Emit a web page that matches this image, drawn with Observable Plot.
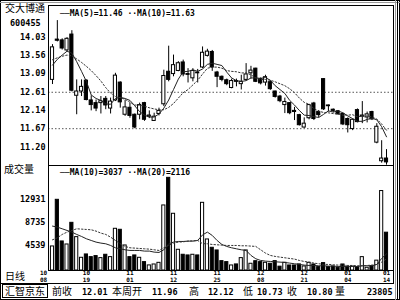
<!DOCTYPE html>
<html><head><meta charset="utf-8">
<script src="https://cdn.jsdelivr.net/npm/d3@7"></script>
<script src="https://cdn.jsdelivr.net/npm/@observablehq/plot@0.6"></script>
<style>
html,body{margin:0;padding:0;background:#fff;}
#c{position:relative;width:400px;height:300px;overflow:hidden;background:#fff;}
#c svg{position:absolute;left:0;}
.t{position:absolute;white-space:nowrap;line-height:1;color:#000;}
.cjk{font-family:"Noto Sans CJK SC",sans-serif;font-size:10px;}
.num{font-family:"DejaVu Sans Mono",monospace;font-weight:bold;font-size:8.5px;}
.leg{font-family:"DejaVu Sans Mono",monospace;font-weight:bold;font-size:8px;}
</style></head><body><div id="c"></div>
<script>
// ---- data ----
const stockName = "交大博通";
const stockCode = "600455";
const dates = ["10/08","10/11","10/12","10/13","10/14","10/15","10/18","10/19","10/20","10/21","10/22","10/25","10/26","10/27","10/28","10/29",
"11/01","11/02","11/03","11/04","11/05","11/08","11/09","11/10","11/11","11/12","11/15","11/16","11/17","11/18","11/19","11/22","11/23","11/24","11/25","11/26","11/29","11/30",
"12/01","12/02","12/03","12/06","12/07","12/08","12/09","12/10","12/13","12/14","12/15","12/16","12/17","12/20","12/21","12/22","12/23","12/24","12/27","12/28","12/29","12/30","12/31",
"01/04","01/05","01/06","01/07","01/10","01/11","01/12","01/13","01/14"];
const open  = [12.93,13.97,13.95,13.69,14.10,12.52,12.63,12.91,12.40,12.33,12.33,12.44,12.19,12.40,12.86,12.03,12.21,12.03,12.03,12.33,11.98,11.87,12.05,12.30,13.14,13.08,13.16,13.38,13.08,12.97,13.12,13.25,13.55,13.65,13.12,13.01,12.92,12.72,12.90,12.82,12.93,13.10,13.22,12.95,12.86,12.87,12.63,12.50,12.28,12.33,12.13,12.02,11.70,11.94,12.32,12.10,12.95,12.27,12.16,12.12,12.05,11.92,11.66,12.15,11.98,11.96,12.10,11.31,10.83,10.90];
const high  = [13.84,14.46,13.99,14.02,14.20,12.93,12.93,12.93,12.52,12.41,12.50,12.50,12.46,13.10,12.88,12.40,12.33,12.05,12.33,12.35,12.13,12.07,12.20,13.18,13.80,13.57,13.40,13.44,13.22,13.22,13.20,13.78,13.72,13.69,13.15,13.03,12.95,12.95,12.95,13.05,13.35,13.28,13.23,12.98,13.05,12.90,12.64,12.53,12.46,12.34,12.22,12.04,11.95,12.30,12.35,12.14,12.96,12.28,12.18,12.14,12.07,11.95,11.92,12.18,12.37,12.10,12.12,11.80,11.36,11.13];
const low   = [12.81,13.91,13.70,13.66,12.62,12.03,12.50,12.39,12.13,12.11,12.05,12.16,12.05,12.37,12.20,11.99,11.94,11.67,11.90,11.86,11.93,11.86,12.00,12.24,12.88,13.01,13.14,13.01,12.85,12.88,12.85,13.22,13.52,13.15,12.73,12.88,12.78,12.70,12.75,12.67,12.90,12.95,12.86,12.80,12.77,12.66,12.46,12.34,12.06,12.03,11.88,11.74,11.68,11.90,11.88,11.95,12.14,12.10,12.08,12.02,11.75,11.56,11.62,11.82,11.80,11.82,11.88,11.28,10.78,10.73];
const close = [13.77,13.94,13.74,13.99,12.65,12.63,12.75,12.41,12.28,12.19,12.38,12.27,12.37,13.04,12.35,12.22,12.00,11.70,12.28,11.90,12.01,11.98,12.13,13.03,12.93,13.31,13.36,13.07,13.06,13.16,13.10,13.63,13.66,13.25,13.01,12.93,12.82,12.90,12.88,12.88,13.07,13.17,12.88,12.84,13.00,12.69,12.49,12.38,12.36,12.07,12.10,11.76,11.80,12.28,11.92,12.02,12.17,12.25,12.13,12.04,11.78,11.76,11.90,11.84,12.01,12.04,11.91,11.72,10.90,10.80];
const volume = [4390,12900,5300,4750,8700,6090,2320,2930,2440,2630,2260,2870,2440,7610,7430,4570,2440,2750,2320,1530,930,1100,1400,11870,16910,10350,3780,2870,2750,2870,2750,12350,5665,4145,3660,1710,1530,920,1110,2260,3660,1230,1700,1530,1410,1230,1710,700,1410,920,920,1110,740,1400,1100,620,1350,620,740,500,1100,700,700,600,2440,500,800,1800,14500,6900];
const ma5  = [13.31,13.46,13.57,13.67,13.62,13.40,13.15,12.89,12.54,12.45,12.40,12.31,12.30,12.45,12.48,12.45,12.40,12.26,12.11,12.02,11.97,11.97,12.05,12.20,12.41,12.68,12.95,13.14,13.15,13.19,13.15,13.21,13.33,13.36,13.33,13.30,13.13,12.98,12.91,12.89,12.91,12.98,12.98,12.97,12.99,12.92,12.78,12.68,12.58,12.40,12.28,12.14,12.02,12.01,11.98,11.96,12.04,12.13,12.10,12.13,12.08,12.00,11.93,11.86,11.86,11.91,11.94,11.90,11.72,11.46];
const ma10 = [13.45,13.50,13.54,13.57,13.55,13.47,13.38,13.28,13.17,13.04,12.90,12.73,12.59,12.50,12.47,12.43,12.35,12.28,12.28,12.25,12.21,12.18,12.16,12.16,12.22,12.32,12.46,12.60,12.68,12.80,12.92,13.08,13.23,13.26,13.26,13.23,13.17,13.15,13.14,13.11,13.11,13.06,12.98,12.94,12.94,12.92,12.88,12.83,12.78,12.70,12.60,12.46,12.35,12.30,12.19,12.12,12.09,12.08,12.06,12.05,12.02,12.02,12.03,11.98,11.99,12.00,11.97,11.92,11.79,11.63];
const vma10 = [8100,7915,7610,7310,7000,6580,6210,5790,5480,5180,5000,4875,4570,4145,3960,3780,3660,3660,3660,3540,3540,3355,3295,3780,4875,5180,5300,5300,5360,5360,5480,6500,7000,6400,5480,4750,4390,4145,3960,3780,3660,2750,2140,1835,1710,1650,1590,1530,1470,1350,1230,1110,985,920,920,860,860,800,800,740,740,740,740,740,860,860,860,1110,2200,3037];
const vma20 = [5600,5970,6580,7000,7310,7610,7550,7490,7430,7185,6820,6580,6090,5480,4875,4390,4145,4085,4020,3960,3900,3780,3660,4145,4570,5000,5180,5240,5360,5420,5480,4900,4875,4750,4690,4630,4570,4570,4570,4510,4510,4450,4390,3780,3170,2750,2570,2440,2320,2200,2080,1835,1650,1530,1350,1230,1110,1110,1050,985,985,920,920,860,860,920,985,1110,1530,2116];
const priceTicks = [11.20,11.67,12.14,12.61,13.09,13.56,14.03];
const gridLevels = [12.61,11.67];
const volTicks = [4539,8735,12931];
const dateLabels = ["10/08","10/19","11/01","11/12","11/25","12/08","12/21","01/04","01/14"];
const priceLegend = ["MA(5)=11.46","MA(10)=11.63"];
const volLegend = ["MA(10)=3037","MA(20)=2116"];
const infoLabels = ["前收","本周开","高","低","收","量"];
const infoValues = ["12.01","11.96","12.12","10.73","10.80","23805"];
const panelName = "成交量", periodName = "日线", brokerName = "汇智京东";

// ---- build ----
const rows = dates.map((date, i) => ({date, open: open[i], high: high[i], low: low[i], close: close[i],
  volume: volume[i], ma5: ma5[i], ma10: ma10[i], vma10: vma10[i], vma20: vma20[i]}));
const bodyFill = d => d.close >= d.open ? "white" : "black";
const xOpts = {type: "band", domain: dates, range: [48.73, 389.27], padding: 0.35, axis: null};
const svgStyle = {background: "transparent", fontFamily: "DejaVu Sans Mono, monospace", fontSize: "8.5px", fontWeight: "bold", color: "#000", overflow: "visible"};
const month = d => d.split("/")[0];
const day = d => d.split("/")[1];

const pricePlot = Plot.plot({
  width: 400, height: 167, marginLeft: 48, marginRight: 7, marginTop: 5, marginBottom: 2,
  x: xOpts, y: {domain: [10.72, 14.85], axis: null}, color: {type: "identity"},
  style: svgStyle,
  marks: [
    Plot.ruleY(gridLevels, {stroke: "#555", strokeDasharray: "1.5,2"}),
    Plot.text(priceTicks, {y: d => d, frameAnchor: "left", textAnchor: "end", dx: -3, text: d => d.toFixed(2)}),
    Plot.ruleX(rows, {x: "date", y1: "low", y2: "high", stroke: "black"}),
    Plot.barY(rows, {x: "date", y1: "open", y2: "close", fill: bodyFill, stroke: "black", strokeWidth: 1}),
    Plot.line(rows, {x: "date", y: "ma5", stroke: "#222", strokeWidth: 1}),
    Plot.line(rows, {x: "date", y: "ma10", stroke: "#333", strokeWidth: 1, strokeDasharray: "1.5,2"}),
    Plot.frame({stroke: "black"})
  ]
});
pricePlot.style.top = "0px";

const dateFont = {frameAnchor: "bottom", lineAnchor: "top", fontSize: 6};
const volPlot = Plot.plot({
  width: 400, height: 125, marginLeft: 48, marginRight: 7, marginTop: 5, marginBottom: 15,
  x: xOpts, y: {domain: [0, 19160], axis: null}, color: {type: "identity"},
  style: svgStyle,
  marks: [
    Plot.barY(rows, {x: "date", y: "volume", fill: bodyFill, stroke: "black", strokeWidth: 1}),
    Plot.line(rows, {x: "date", y: "vma10", stroke: "#222", strokeWidth: 1}),
    Plot.line(rows, {x: "date", y: "vma20", stroke: "#333", strokeWidth: 1, strokeDasharray: "1.5,2"}),
    Plot.text(volTicks, {y: d => d, frameAnchor: "left", textAnchor: "end", dx: -3, text: d => String(d)}),
    Plot.text(dateLabels.slice(1), {x: d => d, ...dateFont, dy: 0.5, text: month}),
    Plot.text(dateLabels.slice(1), {x: d => d, ...dateFont, dy: 7, text: day}),
    Plot.text(dateLabels.slice(0, 1), {x: d => d, ...dateFont, dx: -9, dy: 0.5, text: month}),
    Plot.text(dateLabels.slice(0, 1), {x: d => d, ...dateFont, dx: -9, dy: 7, text: day}),
    Plot.frame({stroke: "black"})
  ]
});
volPlot.style.top = "160px";

const c = document.getElementById("c");
c.appendChild(pricePlot);
c.appendChild(volPlot);

function addText(txt, cls, left, top) {
  const s = document.createElement("div");
  s.className = "t " + cls; s.textContent = txt;
  s.style.left = left + "px"; s.style.top = top + "px";
  c.appendChild(s); return s;
}
addText(stockName, "cjk", 5, 2.5);
addText(stockCode, "num", 10, 18.5);
addText("──" + priceLegend[0] + " ··" + priceLegend[1], "leg", 60, 9.5);
addText(panelName, "cjk", 4, 164);
addText("──" + volLegend[0] + " ··" + volLegend[1], "leg", 60, 168.5);
addText(periodName, "cjk", 5, 271);
const b = addText(brokerName, "cjk", 2, 284);
b.style.border = "1px solid #000"; b.style.padding = "1px 2px 1px 2px";
const labelX = [52, 112, 189, 243, 287, 335];
const valueX = [82, 152, 208, 257, 307, 367];
infoLabels.forEach((t, i) => addText(t, "cjk", labelX[i], 286));
infoValues.forEach((t, i) => addText(t, "num", valueX[i], 287.5));

// frame decoration
const ns = "http://www.w3.org/2000/svg";
const deco = document.createElementNS(ns, "svg");
deco.setAttribute("width", 400); deco.setAttribute("height", 300);
deco.style.top = "0px"; deco.style.pointerEvents = "none";
deco.innerHTML = `<rect x="0.5" y="0.5" width="399" height="299" fill="none" stroke="#000"/>
<line x1="0" x2="400" y1="2.5" y2="2.5" stroke="#999"/>
<line x1="0" x2="393" y1="283.5" y2="283.5" stroke="#000"/>
<line x1="395.5" x2="395.5" y1="0" y2="300" stroke="#999"/>
<line x1="397.5" x2="397.5" y1="0" y2="300" stroke="#000"/>
<line x1="393.5" x2="393.5" y1="165" y2="284" stroke="#000"/>`;
c.appendChild(deco);
</script></body></html>
